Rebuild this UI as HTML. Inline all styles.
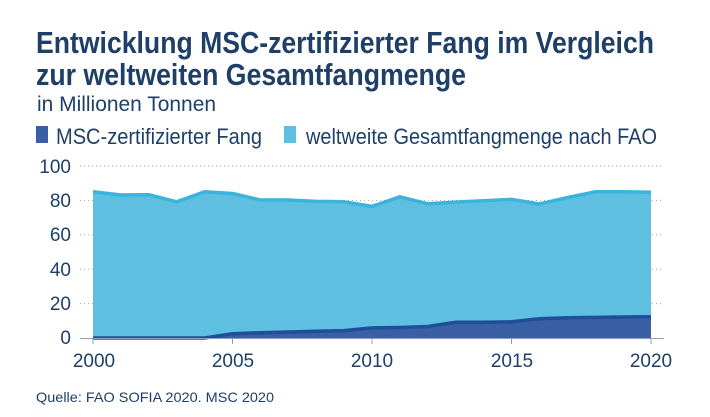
<!DOCTYPE html>
<html><head><meta charset="utf-8"><style>
html,body{margin:0;padding:0;background:#fff;}
svg{display:block;font-family:"Liberation Sans Narrow","Liberation Sans",sans-serif;}
</style></head><body>
<svg width="710" height="417" viewBox="0 0 710 417" xmlns="http://www.w3.org/2000/svg">
<text x="36" y="53" font-size="31" font-weight="bold" fill="#1f3f68" textLength="618" lengthAdjust="spacingAndGlyphs">Entwicklung MSC-zertifizierter Fang im Vergleich</text>
<text x="36" y="85" font-size="31" font-weight="bold" fill="#1f3f68" textLength="430" lengthAdjust="spacingAndGlyphs">zur weltweiten Gesamtfangmenge</text>
<text x="37" y="111" font-size="21" fill="#1f3f68" textLength="179" lengthAdjust="spacingAndGlyphs">in Millionen Tonnen</text>
<rect x="36" y="126" width="12" height="17" fill="#3a5fa5"/>
<text x="56" y="144" font-size="22" fill="#1f3f68" textLength="206" lengthAdjust="spacingAndGlyphs">MSC-zertifizierter Fang</text>
<rect x="284" y="126" width="12" height="17" fill="#5fbfe0"/>
<text x="306" y="144" font-size="22" fill="#1f3f68" textLength="351" lengthAdjust="spacingAndGlyphs">weltweite Gesamtfangmenge nach FAO</text>
<g stroke="#9aa6b5" stroke-width="1" stroke-dasharray="1,3">
<line x1="80" y1="166" x2="662" y2="166"/><line x1="80" y1="200.4" x2="662" y2="200.4"/><line x1="80" y1="234.8" x2="662" y2="234.8"/><line x1="80" y1="269.2" x2="662" y2="269.2"/><line x1="80" y1="303.6" x2="662" y2="303.6"/>
</g>
<g font-size="19" fill="#1f3f68" text-anchor="end">
<text x="71" y="173">100</text><text x="71" y="207">80</text><text x="71" y="241">60</text><text x="71" y="276">40</text><text x="71" y="310">20</text><text x="71" y="344">0</text>
</g>
<polygon fill="#5fbfe0" points="93,338 93,191.8 120.9,195 148.8,194.7 176.7,201.8 204.6,191.8 232.5,193.5 260.4,200 288.3,200 316.2,201.4 344.1,201.8 372,206.4 399.9,196.8 427.8,203.8 455.7,202.1 483.6,200.7 511.5,199.4 539.4,204 567.3,197.6 595.2,191.8 623.1,191.8 651,192.2 651,338"/>
<polyline fill="none" stroke="#3ab4dc" stroke-width="3.5" stroke-linejoin="round" points="93,191.8 120.9,195 148.8,194.7 176.7,201.8 204.6,191.8 232.5,193.5 260.4,200 288.3,200 316.2,201.4 344.1,201.8 372,206.4 399.9,196.8 427.8,203.8 455.7,202.1 483.6,200.7 511.5,199.4 539.4,204 567.3,197.6 595.2,191.8 623.1,191.8 651,192.2"/>
<polygon fill="#3a5fa5" points="93,338 204.6,338 232.5,333.7 260.4,332.7 288.3,332 316.2,331.3 344.1,330.6 372,327.9 399.9,327.5 427.8,326.5 455.7,322.2 483.6,322.2 511.5,321.8 539.4,318.7 567.3,317.7 595.2,317.4 623.1,317 651,316.7 651,338"/>
<polyline fill="none" stroke="#1f4f9a" stroke-width="3.5" stroke-linejoin="round" points="93,338 204.6,338 232.5,333.7 260.4,332.7 288.3,332 316.2,331.3 344.1,330.6 372,327.9 399.9,327.5 427.8,326.5 455.7,322.2 483.6,322.2 511.5,321.8 539.4,318.7 567.3,317.7 595.2,317.4 623.1,317 651,316.7"/>
<line x1="80" y1="338.5" x2="664" y2="338.5" stroke="#8fa0b8" stroke-width="1"/>
<g stroke="#8fa0b8"><line x1="93" y1="338" x2="93" y2="344"/><line x1="232.5" y1="338" x2="232.5" y2="344"/><line x1="372" y1="338" x2="372" y2="344"/><line x1="511.5" y1="338" x2="511.5" y2="344"/><line x1="651" y1="338" x2="651" y2="344"/></g>
<g font-size="19" fill="#1f3f68" text-anchor="middle">
<text x="94" y="367">2000</text><text x="233" y="367">2005</text><text x="372" y="367">2010</text><text x="512" y="367">2015</text><text x="651" y="367">2020</text>
</g>
<text x="36" y="402" font-size="14" fill="#1f3f68" textLength="238" lengthAdjust="spacingAndGlyphs">Quelle: FAO SOFIA 2020. MSC 2020</text>
</svg>
</body></html>
